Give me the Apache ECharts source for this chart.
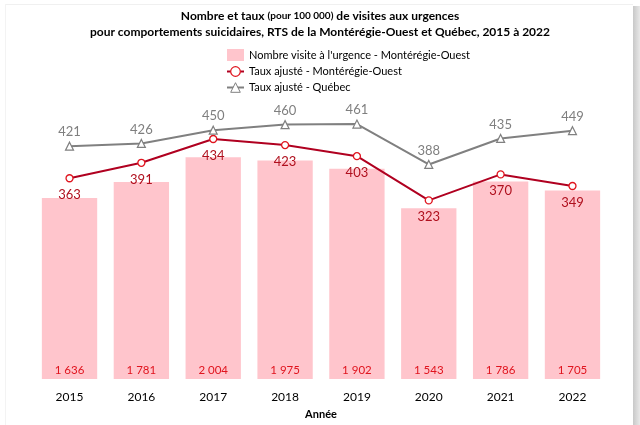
<!DOCTYPE html>
<html><head><meta charset="utf-8">
<script src="https://cdn.jsdelivr.net/npm/echarts@6/dist/echarts.min.js"></script>
<style>html,body{margin:0;padding:0;background:#fff}#c{width:640px;height:425px}</style>
</head><body><div id="c"></div>
<script>
const years = ['2015','2016','2017','2018','2019','2020','2021','2022'];
const visites = [1636, 1781, 2004, 1975, 1902, 1543, 1786, 1705];
const tauxMO = [363, 391, 434, 423, 403, 323, 370, 349];
const tauxQC = [421, 426, 450, 460, 461, 388, 435, 449];

const F = 'Lato, "Liberation Sans", sans-serif';
const fmt = v => String(v).replace(/\B(?=(\d{3})+(?!\d))/g, ' ');

const chart = echarts.init(document.getElementById('c'), null, {renderer:'canvas'});
chart.setOption({
  animation: false,
  textStyle: {fontFamily: F},
  title: {
    text: '{b|Nombre et taux }{s|(pour 100 000)}{b| de visites aux urgences}\n{b|pour comportements suicidaires, RTS de la Montérégie-Ouest et Québec, 2015 à 2022}',
    left: 'center', top: 3,
    textStyle: {
      fontFamily: F, lineHeight: 16,
      rich: {
        b: {fontFamily: F, fontSize: 12, fontWeight: 'bold', color: '#000', lineHeight: 16},
        s: {fontFamily: F, fontSize: 10, color: '#000', lineHeight: 16}
      }
    }
  },
  legend: {
    orient: 'vertical', left: 226, top: 49, padding: 0, itemGap: 5, itemWidth: 17, itemHeight: 12,
    textStyle: {fontFamily: F, fontSize: 11, color: '#000'},
    data: [
      {name: "Nombre visite à l'urgence - Montérégie-Ouest", icon: 'rect', itemStyle:{color:'#ffc5cc'}},
      {name: 'Taux ajusté - Montérégie-Ouest', itemStyle:{borderWidth:1.2}},
      {name: 'Taux ajusté - Québec', itemStyle:{borderWidth:1}}
    ]
  },
  grid: {left: 33.6, right: 31.6, top: 102.5, bottom: 43.5},
  xAxis: {
    type: 'category', data: years,
    axisLine: {show: false}, axisTick: {show: false},
    axisLabel: {fontFamily: F, fontSize: 12, color: '#000', margin: 12},
    name: 'Année', nameLocation: 'middle', nameGap: 30,
    nameTextStyle: {fontFamily: F, fontSize: 11, fontWeight: 'bold', color: '#000'}
  },
  yAxis: [
    {type: 'value', min: 0, max: 2500, show: false, splitLine: {show: false}},
    {type: 'value', min: 0, max: 500, show: false, splitLine: {show: false}}
  ],
  graphic: [
    {type: 'rect', left: 633, top: 6, shape: {width: 7, height: 419},
     style: {fill: new echarts.graphic.LinearGradient(0,0,1,0,[{offset:0,color:'#c8c8c8'},{offset:1,color:'#e8e8e8'}])}, silent: true},
    {type: 'line', shape: {x1: 5, y1: 4.5, x2: 633, y2: 4.5}, style: {stroke: '#f0f0f0', lineWidth: 1}, silent: true},
    {type: 'line', shape: {x1: 5.5, y1: 4, x2: 5.5, y2: 425}, style: {stroke: '#f3f3f3', lineWidth: 1}, silent: true}
  ],
  series: [
    {
      name: "Nombre visite à l'urgence - Montérégie-Ouest", type: 'bar', yAxisIndex: 0,
      data: visites, barCategoryGap: '23%',
      itemStyle: {color: '#ffc5cc'},
      label: {show: true, position: 'insideBottom', distance: 3, color: '#e0141e',
        fontFamily: F, fontSize: 11.5, formatter: p => fmt(p.value)}
    },
    {
      name: 'Taux ajusté - Montérégie-Ouest', type: 'line', yAxisIndex: 1, data: tauxMO,
      symbol: 'circle', symbolSize: 7,
      lineStyle: {color: '#b00020', width: 2},
      itemStyle: {color: '#fff', borderColor: '#e0141e', borderWidth: 1.3},
      label: {show: true, position: 'bottom', distance: 6, color: '#b0101e', fontFamily: F, fontSize: 13}
    },
    {
      name: 'Taux ajusté - Québec', type: 'line', yAxisIndex: 1, data: tauxQC,
      symbol: 'triangle', symbolSize: 8,
      lineStyle: {color: '#808080', width: 2},
      itemStyle: {color: '#fff', borderColor: '#808080', borderWidth: 1.2},
      label: {show: true, position: 'top', distance: 3, color: '#7f7f7f', fontFamily: F, fontSize: 13}
    }
  ]
});
</script></body></html>
